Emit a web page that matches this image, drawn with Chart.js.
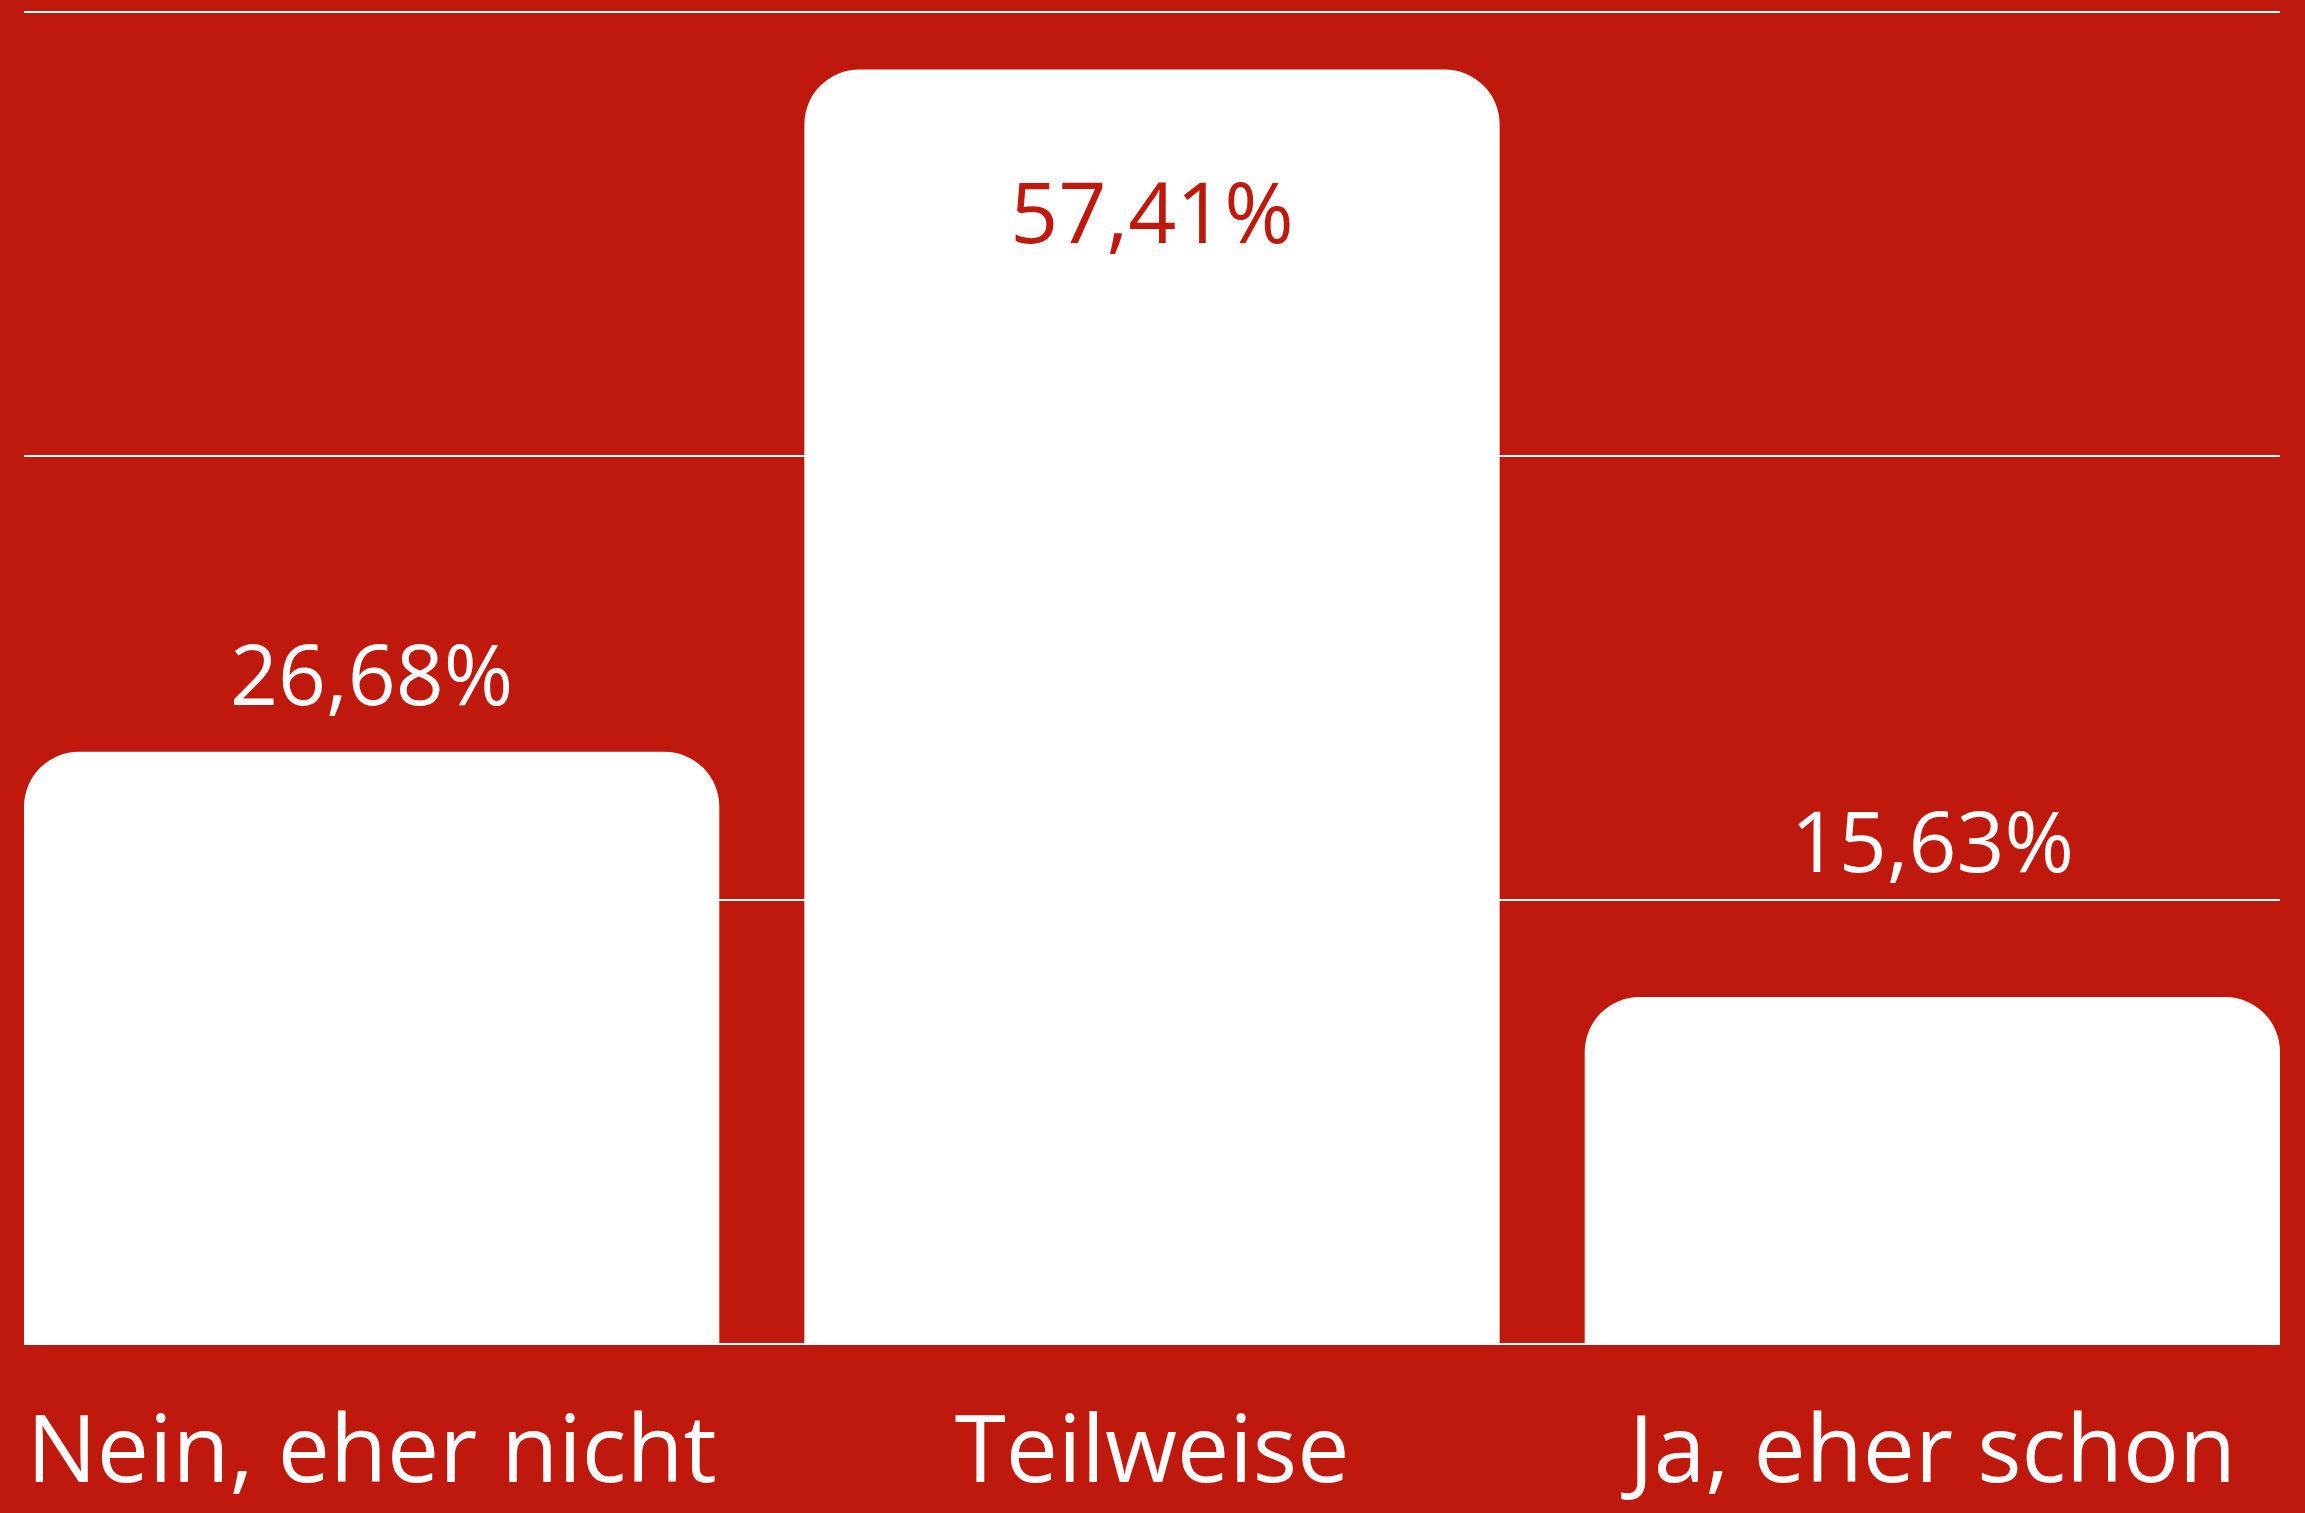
<!DOCTYPE html>
<html lang="de">
<head>
<meta charset="utf-8">
<title>Umfrage</title>
<script src="https://cdn.jsdelivr.net/npm/chart.js@4/dist/chart.umd.min.js"></script>
<style>
  html, body { margin: 0; padding: 0; background: #BF190E; }
  #wrap { width: 2305px; height: 1513px; position: relative; }
</style>
</head>
<body>
<div id="wrap"><canvas id="c"></canvas></div>
<script>
// ---- data ----
const categories = ["Nein, eher nicht", "Teilweise", "Ja, eher schon"];
const values = [26.68, 57.41, 15.63];
const yTicks = [0, 20, 40, 60];

// ---- style ----
const RED = "#BF190E";
const WHITE = "#FFFFFF";
const FONT = "'Open Sans', 'Noto Sans', sans-serif";
const barFraction = 0.891;

function fmt(v) {
  return v.toFixed(2).replace(".", ",") + "%";
}

const valueLabels = {
  id: "valueLabels",
  afterDatasetsDraw(chart, args, opts) {
    const ctx = chart.ctx;
    const meta = chart.getDatasetMeta(0);
    ctx.save();
    ctx.font = "400 " + opts.size + "px " + FONT;
    ctx.textAlign = "center";
    ctx.textBaseline = "alphabetic";
    meta.data.forEach((bar, i) => {
      const h = bar.base - bar.y;
      const y = bar.base - opts.rise - opts.follow * h;
      ctx.fillStyle = y > bar.y ? RED : WHITE;
      ctx.fillText(fmt(values[i]), bar.x, y);
    });
    ctx.restore();
  }
};

new Chart(document.getElementById("c"), {
  type: "bar",
  data: {
    datasets: [{
      data: values.map((v, i) => ({ x: i, y: v })),
      backgroundColor: WHITE,
      borderWidth: 0,
      borderRadius: 55,
      borderSkipped: "start",
      barPercentage: barFraction,
      categoryPercentage: 1
    }]
  },
  options: {
    responsive: true,
    maintainAspectRatio: false,
    animation: false,
    devicePixelRatio: 1,
    layout: { padding: { left: 24, right: 25, top: 12, bottom: 0 } },
    plugins: {
      legend: { display: false },
      tooltip: { enabled: false },
      valueLabels: { size: 84, rise: 236.7, follow: 0.678 }
    },
    scales: {
      x: {
        type: "linear",
        offset: false,
        min: -barFraction / 2,
        max: categories.length - 1 + barFraction / 2,
        grid: { display: false, drawTicks: false, offset: false },
        border: { display: false },
        afterBuildTicks(scale) {
          scale.ticks = categories.map((_, i) => ({ value: i }));
        },
        afterFit(scale) {
          scale.height = 169;
          scale.paddingLeft = 0;
          scale.paddingRight = 0;
        },
        ticks: {
          autoSkip: false,
          maxRotation: 0,
          padding: 56,
          color: WHITE,
          font: { family: FONT, size: 93, weight: "400" },
          callback: (v) => categories[v]
        }
      },
      y: {
        min: yTicks[0],
        max: yTicks[yTicks.length - 1],
        afterBuildTicks(scale) {
          scale.ticks = yTicks.map(v => ({ value: v }));
        },
        grid: { color: WHITE, lineWidth: 2, drawTicks: false },
        border: { display: false },
        ticks: { display: false }
      }
    }
  },
  plugins: [valueLabels]
});
</script>
</body>
</html>
